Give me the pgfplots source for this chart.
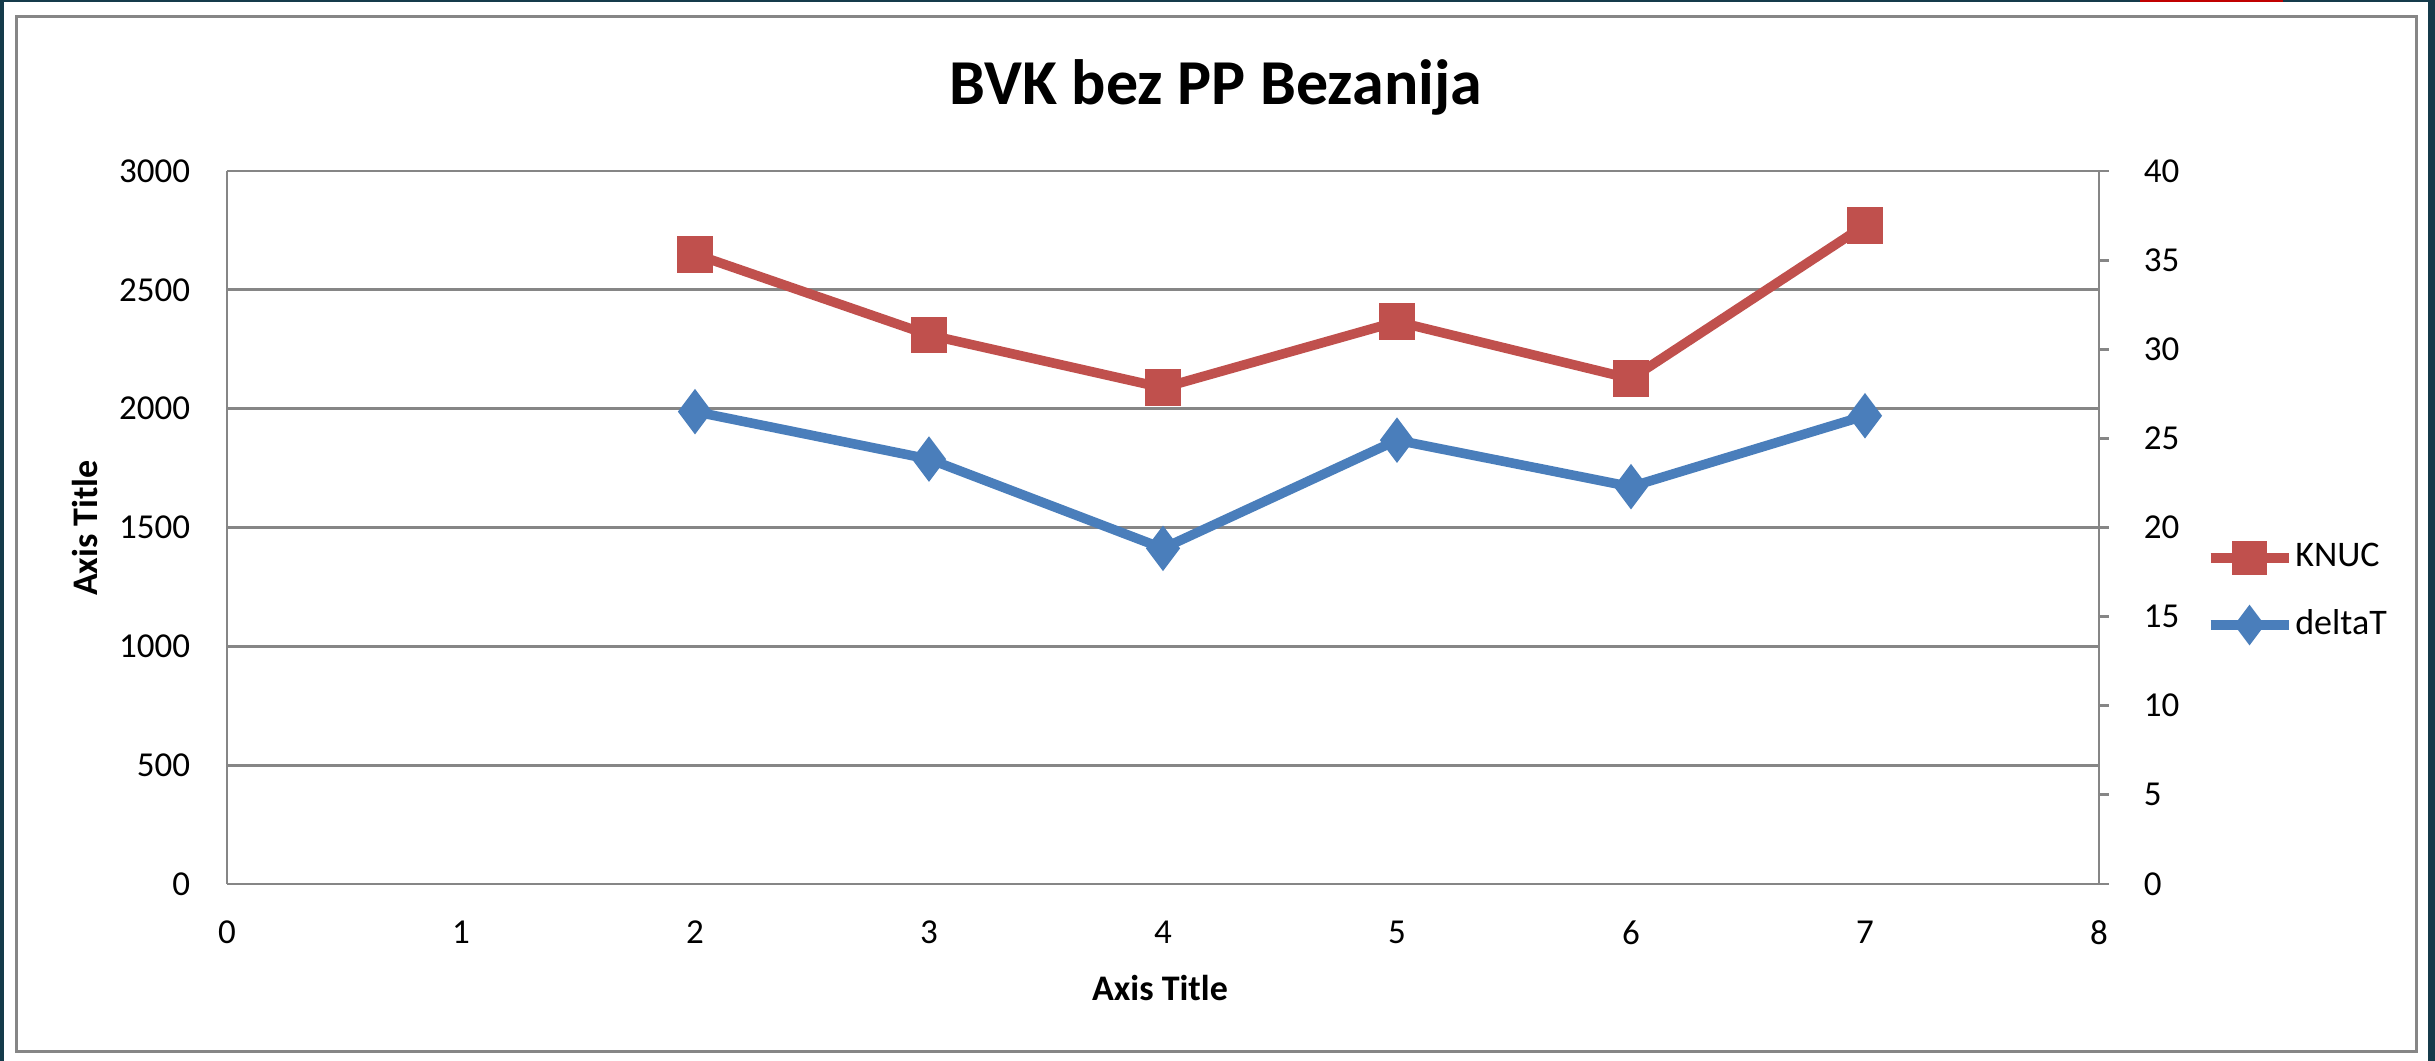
\documentclass[border=0pt]{standalone}
\usepackage{fontspec}
\setmainfont{Carlito}
\usepackage{pgfplots}
\pgfplotsset{compat=1.18}
\definecolor{knuc}{HTML}{C0504D}
\definecolor{dt}{HTML}{4A7EBB}
\definecolor{axgray}{HTML}{868686}
\definecolor{frameC}{HTML}{153B4B}
\definecolor{exred}{HTML}{C00000}

\begin{document}
\begin{tikzpicture}
\begin{scope}[x=0.25pt,y=0.25pt]
\fill[frameC] (-227,-177) rectangle (2208,884);
\fill[white] (-223,-177) rectangle (2201,882);
\fill[exred] (1913,882) rectangle (2056,884);
\draw[axgray, line width=0.75pt, fill=white] (-210,-168) rectangle (2189,867);
\end{scope}

\begin{axis}[
  at={(0,0)}, anchor=south west,
  width=468pt, height=178.25pt, scale only axis,
  xmin=0, xmax=8, ymin=0, ymax=3000,
  xtick={0,1,2,3,4,5,6,7,8},
  ytick={0,500,1000,1500,2000,2500,3000},
  axis x line*=bottom, axis y line*=left,
  axis line style={axgray, line width=0.7pt, -},
  ymajorgrids, grid style={axgray, line width=0.7pt},
  major tick length=0pt,
  tick style={draw=none},
  ticklabel style={font=\fontsize{8.75}{10}\selectfont, text=black},
  /pgf/number format/assume math mode=true,
  /pgf/number format/1000 sep={},
  scaled y ticks=false,
  yticklabel style={inner sep=0pt, anchor=east, xshift=-9pt},
  xticklabel style={inner sep=0pt, anchor=north, yshift=-9pt},
  clip=false,
]
\addplot[knuc, line width=2.4pt, mark=square*, mark size=3.4pt, mark options={solid}]
  coordinates {(2,2650) (3,2310) (4,2088) (5,2366) (6,2126) (7,2772)};
\end{axis}

\begin{axis}[
  at={(0,0)}, anchor=south west,
  width=468pt, height=178.25pt, scale only axis,
  xmin=0, xmax=8, ymin=0, ymax=40,
  hide x axis,
  axis y line*=right,
  axis line style={axgray, line width=0.7pt, -},
  ytick={0,5,10,15,20,25,30,35,40},
  tick align=outside,
  major tick length=2.5pt,
  tick style={axgray, line width=0.7pt},
  ticklabel style={font=\fontsize{8.75}{10}\selectfont, text=black},
  /pgf/number format/assume math mode=true,
  yticklabel style={inner sep=0pt, anchor=west, xshift=8.5pt},
  clip=false,
  legend style={at={(1.0566,0.4102)}, anchor=west, draw=none, fill=none,
    font=\fontsize{9}{11}\selectfont, inner sep=0pt, row sep=0pt,
    nodes={inner sep=0.5pt, minimum height=16.75pt}},
  legend cell align=left,
  legend image code/.code={\draw[mark repeat=2,mark phase=2,#1] plot coordinates {(0pt,0pt) (9.75pt,0pt) (19.5pt,0pt)};},
]
\addlegendimage{knuc, line width=2.4pt, mark=square*, mark size=3.1pt, mark options={solid}}
\addlegendentry{KNUC}
\addlegendimage{dt, line width=2.4pt, mark=diamond*, mark size=3.1pt, mark options={solid}}
\addlegendentry{deltaT}
\addplot[dt, line width=2.4pt, mark=diamond*, mark size=3.7pt, mark options={solid}, forget plot]
  coordinates {(2,26.5) (3,23.84) (4,18.83) (5,24.9) (6,22.29) (7,26.27)};
\end{axis}

\begin{scope}[x=0.25pt,y=0.25pt]
\node[anchor=base, inner sep=0pt, font=\fontsize{16}{19}\selectfont\bfseries] at (989,779) {BVK bez PP Bezanija};
\node[inner sep=0pt, font=\fontsize{9}{11}\selectfont\bfseries] at (933,-104) {Axis Title};
\node[inner sep=0pt, rotate=90, font=\fontsize{9}{11}\selectfont\bfseries] at (-142,356) {Axis Title};
\end{scope}
\end{tikzpicture}
\end{document}
